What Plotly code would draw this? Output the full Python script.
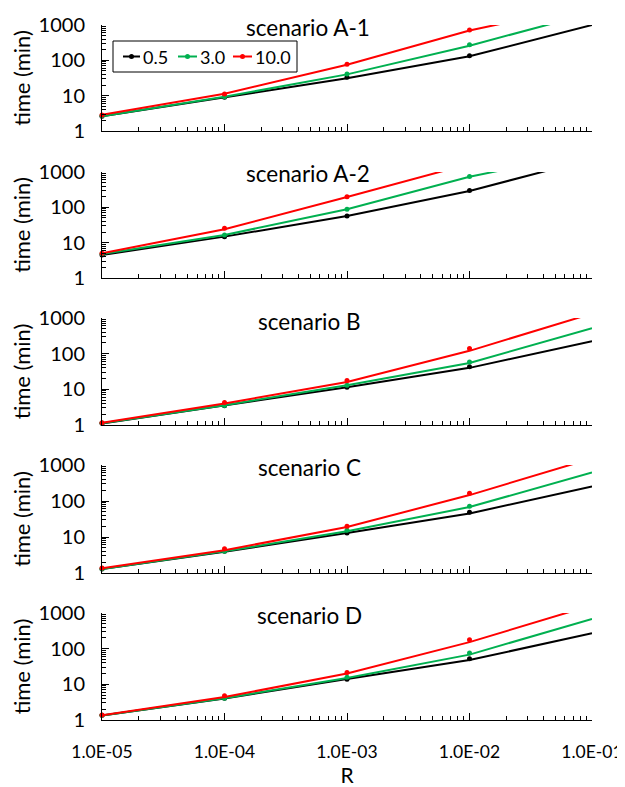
import plotly.graph_objects as go
from plotly.subplots import make_subplots

R = [1e-5, 1e-4, 1e-3, 1e-2, 1e-1]
series_names = ["0.5", "3.0", "10.0"]
colors = ["#000000", "#00B050", "#FF0000"]
scenarios = ["scenario A-1", "scenario A-2", "scenario B", "scenario C", "scenario D"]

# model curves (lines) at each decade of R; values above 1000 run off the chart
line_A1 = {"0.5": [2.6, 9.0, 31, 130, 1000], "3.0": [2.6, 9.3, 40, 260, 2200], "10.0": [2.9, 11.3, 75, 700, 3800]}
line_A2 = {"0.5": [4.5, 14.8, 57, 290, 2350], "3.0": [4.8, 16.5, 88, 730, 3800], "10.0": [5.0, 24, 195, 1700, 10000]}
line_B = {"0.5": [1.1, 3.5, 11.5, 40, 225], "3.0": [1.12, 3.6, 13, 55, 520], "10.0": [1.15, 4.0, 16, 120, 1330]}
line_C = {"0.5": [1.3, 3.9, 13, 45, 255], "3.0": [1.3, 4.0, 14.5, 68, 620], "10.0": [1.35, 4.3, 19, 146, 1530]}
line_D = {"0.5": [1.33, 4.0, 14, 48, 270], "3.0": [1.33, 4.1, 15, 68, 680], "10.0": [1.35, 4.4, 20, 152, 1650]}

# measured points (markers); None where not shown
pts_A1 = {"0.5": [2.6, 9.0, 33, 135, None], "3.0": [2.7, 9.3, 41, 274, None], "10.0": [2.84, 11.2, 77, 720, None]}
pts_A2 = {"0.5": [4.5, 14.8, 57, 297, None], "3.0": [4.8, 16.5, 88, 740, None], "10.0": [5.0, 25.6, 200, None, None]}
pts_B = {"0.5": [1.12, 3.45, 11.4, 43, 228], "3.0": [1.14, 3.5, 13, 58, 545], "10.0": [1.16, 4.3, 17.6, 139, None]}
pts_C = {"0.5": [1.3, 4.0, 13, 49, 271], "3.0": [1.32, 4.0, 15.4, 72, 650], "10.0": [1.38, 4.7, 20, 163, None]}
pts_D = {"0.5": [1.35, 4.1, 13.9, 52, 292], "3.0": [1.36, 4.1, 15.8, 75, 720], "10.0": [1.38, 4.8, 21.5, 178, None]}

lines = [line_A1, line_A2, line_B, line_C, line_D]
points = [pts_A1, pts_A2, pts_B, pts_C, pts_D]

FONT = "Lato"
fig = make_subplots(rows=5, cols=1)

for i in range(5):
    for name, col in zip(series_names, colors):
        fig.add_trace(go.Scatter(x=R, y=lines[i][name], mode="lines", name=name,
                                 line=dict(color=col, width=2), showlegend=False),
                      row=i + 1, col=1)
        fig.add_trace(go.Scatter(x=R, y=points[i][name], mode="markers", name=name,
                                 marker=dict(color=col, size=5), cliponaxis=False,
                                 showlegend=False),
                      row=i + 1, col=1)

domains = [(0.8475, 1.0), (0.636, 0.7885), (0.4245, 0.5784), (0.2115, 0.3669), (0.0, 0.154)]
title_y = [0.997, 0.787, 0.5727, 0.3626, 0.151]
title_x = [0.421, 0.421, 0.423, 0.423, 0.423]

for i in range(5):
    fig.update_yaxes(type="log", range=[0, 3], domain=list(domains[i]), automargin=False,
                     tickvals=[1, 10, 100, 1000], ticktext=["1", "10", "100", "1000"],
                     ticks="inside", ticklen=7, tickcolor="black",
                     minor=dict(ticks="inside", ticklen=4, tickcolor="black", dtick="D1", showgrid=False),
                     showline=True, linecolor="black", linewidth=1, showgrid=False, zeroline=False,
                     tickfont=dict(family=FONT, size=20, color="black"),
                     ticklabelstandoff=12,
                     title=dict(text="time (min)", font=dict(family=FONT, size=22, color="black"), standoff=4),
                     row=i + 1, col=1)
    fig.update_xaxes(type="log", range=[-5, -1], automargin=False,
                     tickvals=[1e-5, 1e-4, 1e-3, 1e-2, 1e-1],
                     ticktext=["1.0E-05", "1.0E-04", "1.0E-03", "1.0E-02", "1.0E-01"],
                     ticks="inside", ticklen=7, tickcolor="black",
                     minor=dict(ticks="inside", ticklen=4, tickcolor="black", dtick="D1", showgrid=False),
                     showline=True, linecolor="black", linewidth=1, showgrid=False, zeroline=False,
                     showticklabels=(i == 4),
                     tickfont=dict(family=FONT, size=17.5, color="black"),
                     ticklabelstandoff=16,
                     row=i + 1, col=1)
    fig.add_annotation(text=scenarios[i], xref="paper", yref="paper", x=title_x[i], y=title_y[i],
                       xanchor="center", yanchor="middle", showarrow=False,
                       font=dict(family=FONT, size=22.5, color="black"))

fig.update_xaxes(title=dict(text="R", font=dict(family=FONT, size=21, color="black"), standoff=10), row=5, col=1)

# ---- legend box drawn in panel 1 (page pixel positions converted to paper units) ----
PL, PR, PT, PB = 102, 592, 25, 720
def px(x):
    return (x - PL) / (PR - PL)
def py(y):
    return (PB - y) / (PB - PT)

fig.add_shape(type="rect", xref="paper", yref="paper", x0=px(113), x1=px(297), y0=py(72), y1=py(41),
              line=dict(color="black", width=1), fillcolor="white", layer="above")
leg_line_x = [(123, 140), (178, 197), (233, 252)]
leg_y = 56.5
for (x0, x1), name, col in zip(leg_line_x, series_names, colors):
    fig.add_shape(type="line", xref="paper", yref="paper", x0=px(x0), x1=px(x1), y0=py(leg_y), y1=py(leg_y),
                  line=dict(color=col, width=2), layer="above")
    xc = (x0 + x1) / 2
    fig.add_shape(type="circle", xref="paper", yref="paper", x0=px(xc - 2.5), x1=px(xc + 2.5),
                  y0=py(leg_y + 2.5), y1=py(leg_y - 2.5), line=dict(color=col, width=0),
                  fillcolor=col, layer="above")
    fig.add_annotation(text=name, xref="paper", yref="paper", x=px(x1 + 1), y=py(leg_y),
                       xanchor="left", yanchor="middle", showarrow=False,
                       font=dict(family=FONT, size=18, color="black"))

fig.update_layout(
    width=617, height=779,
    margin=dict(l=94, r=33, t=17, b=67),
    plot_bgcolor="white", paper_bgcolor="white",
    font=dict(family=FONT, color="black"),
    showlegend=False,
)

fig.write_html("out.html")
